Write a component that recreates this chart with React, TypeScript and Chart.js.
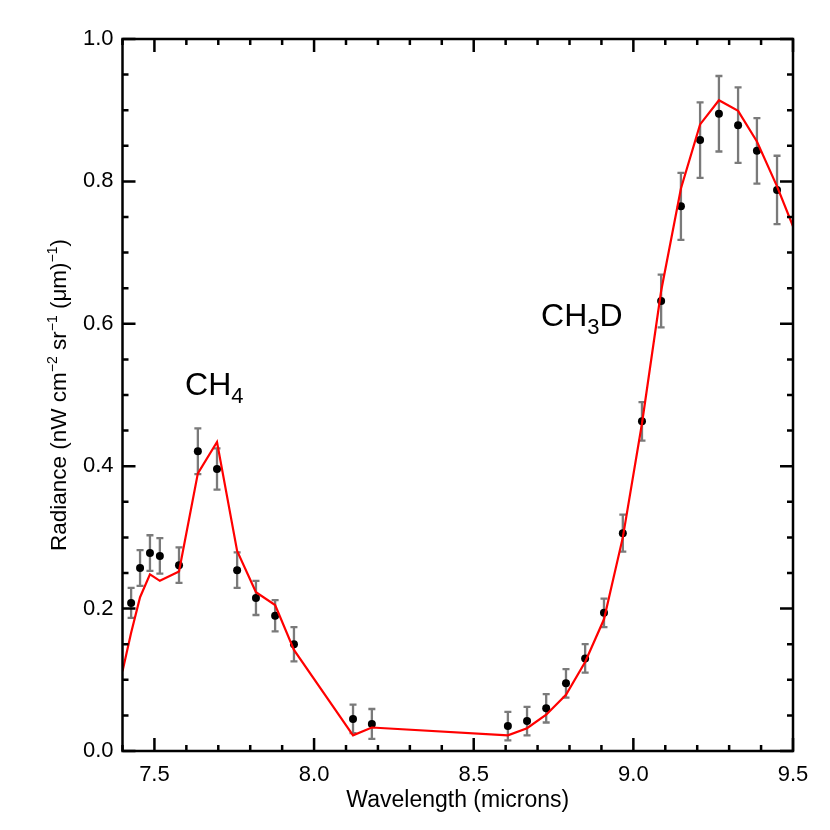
import React, { useEffect, useRef } from "react";
import { Chart, registerables } from "chart.js";

Chart.register(...registerables);

// ---- data ----
const wavelength = [7.427, 7.455, 7.486, 7.517, 7.577, 7.636, 7.696, 7.759, 7.818, 7.878, 7.937, 8.122, 8.181, 8.607, 8.667, 8.727, 8.789, 8.849, 8.908, 8.967, 9.027, 9.087, 9.149, 9.209, 9.268, 9.328, 9.387, 9.45];
const radiance = [0.208, 0.257, 0.278, 0.274, 0.261, 0.421, 0.396, 0.254, 0.215, 0.19, 0.15, 0.045, 0.038, 0.035, 0.042, 0.06, 0.095, 0.13, 0.194, 0.306, 0.463, 0.632, 0.765, 0.858, 0.895, 0.879, 0.843, 0.788];
const radianceError = [0.021, 0.025, 0.025, 0.025, 0.025, 0.032, 0.029, 0.025, 0.024, 0.022, 0.024, 0.02, 0.021, 0.02, 0.02, 0.02, 0.02, 0.02, 0.02, 0.026, 0.027, 0.037, 0.047, 0.053, 0.053, 0.053, 0.046, 0.048];
const modelWavelength = [7.4, ...wavelength, 9.5];
const modelRadiance = [0.112, 0.166, 0.216, 0.248, 0.239, 0.252, 0.39, 0.434, 0.281, 0.223, 0.205, 0.142, 0.022, 0.033, 0.022, 0.032, 0.051, 0.079, 0.125, 0.185, 0.3, 0.46, 0.646, 0.79, 0.88, 0.914, 0.899, 0.856, 0.793, 0.737];

const xMajorTicks = [7.5, 8.0, 8.5, 9.0, 9.5];
const xMinorTicks = [7.4, 7.6, 7.7, 7.8, 7.9, 8.1, 8.2, 8.3, 8.4, 8.6, 8.7, 8.8, 8.9, 9.1, 9.2, 9.3, 9.4];
const yMajorTicks = [0.0, 0.2, 0.4, 0.6, 0.8, 1.0];
const yMinorTicks = [0.05, 0.1, 0.15, 0.25, 0.3, 0.35, 0.45, 0.5, 0.55, 0.65, 0.7, 0.75, 0.85, 0.9, 0.95];

const xTitle = "Wavelength (microns)";
const annotations = [
  { x: 7.596, y: 0.5, main: "CH", sub: "4", tail: "" },
  { x: 8.711, y: 0.597, main: "CH", sub: "3", tail: "D" },
];

const FONT = '"Liberation Sans", Arial, Helvetica, sans-serif';

type Seg = { t: string; size: number; dy: number };

function drawSegs(ctx: CanvasRenderingContext2D, segs: Seg[], x0: number, y0: number, center: boolean) {
  let total = 0;
  for (const s of segs) {
    ctx.font = `${s.size}px ${FONT}`;
    total += ctx.measureText(s.t).width;
  }
  let x = center ? x0 - total / 2 : x0;
  for (const s of segs) {
    ctx.font = `${s.size}px ${FONT}`;
    ctx.fillText(s.t, x, y0 + s.dy);
    x += ctx.measureText(s.t).width;
  }
}

const decorations = {
  id: "decorations",
  beforeDatasetsDraw(chart: any) {
    const { ctx, scales } = chart;
    const x = scales.x, y = scales.y;
    ctx.save();
    ctx.strokeStyle = "#7a7a7a";
    ctx.lineWidth = 2.3;
    wavelength.forEach((w, i) => {
      const px = x.getPixelForValue(w);
      const top = y.getPixelForValue(radiance[i] + radianceError[i]);
      const bot = y.getPixelForValue(radiance[i] - radianceError[i]);
      ctx.beginPath();
      ctx.moveTo(px, top); ctx.lineTo(px, bot);
      ctx.moveTo(px - 3.5, top); ctx.lineTo(px + 3.5, top);
      ctx.moveTo(px - 3.5, bot); ctx.lineTo(px + 3.5, bot);
      ctx.stroke();
    });
    ctx.restore();
  },
  afterDraw(chart: any) {
    const { ctx, chartArea: a, scales } = chart;
    const x = scales.x, y = scales.y;
    ctx.save();
    ctx.strokeStyle = "#000";
    ctx.lineWidth = 2.5;
    ctx.strokeRect(a.left, a.top, a.right - a.left, a.bottom - a.top);
    const tick = (vals: number[], len: number) => {
      ctx.beginPath();
      for (const v of vals) {
        const px = x.getPixelForValue(v);
        ctx.moveTo(px, a.bottom); ctx.lineTo(px, a.bottom - len);
        ctx.moveTo(px, a.top); ctx.lineTo(px, a.top + len);
      }
      ctx.stroke();
    };
    const tickY = (vals: number[], len: number) => {
      ctx.beginPath();
      for (const v of vals) {
        const py = y.getPixelForValue(v);
        ctx.moveTo(a.left, py); ctx.lineTo(a.left + len, py);
        ctx.moveTo(a.right, py); ctx.lineTo(a.right - len, py);
      }
      ctx.stroke();
    };
    tick(xMajorTicks, 13);
    tick(xMinorTicks, 6);
    tickY(yMajorTicks, 13);
    tickY(yMinorTicks, 6);

    ctx.fillStyle = "#000";
    ctx.textBaseline = "alphabetic";
    ctx.textAlign = "left";
    // x title
    drawSegs(ctx, [{ t: xTitle, size: 23, dy: 0 }], (a.left + a.right) / 2, 807, true);
    // y title
    ctx.save();
    ctx.translate(66, (a.top + a.bottom) / 2);
    ctx.rotate(-Math.PI / 2);
    drawSegs(ctx, [
      { t: "Radiance (nW cm", size: 22.5, dy: 0 },
      { t: "\u22122", size: 14, dy: -9 },
      { t: " sr", size: 22.5, dy: 0 },
      { t: "\u22121", size: 14, dy: -9 },
      { t: " (\u03bcm)", size: 22.5, dy: 0 },
      { t: "\u22121", size: 14, dy: -9 },
      { t: ")", size: 22.5, dy: 0 },
    ], 0, 0, true);
    ctx.restore();
    // annotations
    for (const an of annotations) {
      const px = x.getPixelForValue(an.x);
      const py = y.getPixelForValue(an.y);
      const segs: Seg[] = [
        { t: an.main, size: 32, dy: 0 },
        { t: an.sub, size: 22, dy: 8 },
      ];
      if (an.tail) segs.push({ t: an.tail, size: 32, dy: 0 });
      drawSegs(ctx, segs, px, py, false);
    }
    ctx.restore();
  },
};

export default function App() {
  const ref = useRef<HTMLCanvasElement | null>(null);
  useEffect(() => {
    if (!ref.current) return;
    const chart = new Chart(ref.current, {
      type: "scatter",
      data: {
        datasets: [
          {
            type: "line",
            label: "Model",
            data: modelWavelength.map((w, i) => ({ x: w, y: modelRadiance[i] })),
            borderColor: "#ff0000",
            borderWidth: 2.2,
            pointRadius: 0,
            tension: 0,
            fill: false,
            order: 0,
          } as any,
          {
            type: "scatter",
            label: "Data",
            data: wavelength.map((w, i) => ({ x: w, y: radiance[i] })),
            backgroundColor: "#000",
            borderWidth: 0,
            pointRadius: 4,
            order: 1,
          },
        ],
      },
      options: {
        responsive: false,
        animation: false,
        layout: { padding: { top: 39, right: 37, bottom: 0, left: 0 } },
        plugins: { legend: { display: false }, tooltip: { enabled: false } },
        scales: {
          x: {
            type: "linear",
            min: 7.4,
            max: 9.5,
            afterBuildTicks: (s: any) => { s.ticks = xMajorTicks.map((v) => ({ value: v })); },
            afterFit: (s: any) => { s.height = 79; },
            ticks: {
              callback: (v: any) => Number(v).toFixed(1),
              color: "#000",
              font: { family: FONT, size: 22 },
              padding: 11,
              maxRotation: 0,
              autoSkip: false,
            },
            grid: { display: false, drawTicks: false },
            border: { display: false },
          },
          y: {
            type: "linear",
            min: 0,
            max: 1,
            afterBuildTicks: (s: any) => { s.ticks = yMajorTicks.map((v) => ({ value: v })); },
            afterFit: (s: any) => { s.width = 122.5; },
            ticks: {
              callback: (v: any) => Number(v).toFixed(1),
              color: "#000",
              font: { family: FONT, size: 22 },
              padding: 9,
              autoSkip: false,
            },
            grid: { display: false, drawTicks: false },
            border: { display: false },
          },
        },
      },
      plugins: [decorations],
    });
    return () => chart.destroy();
  }, []);
  return (
    <div style={{ position: "fixed", left: 0, top: 0, width: 830, height: 830, background: "#fff" }}>
      <canvas ref={ref} width={830} height={830} />
    </div>
  );
}
